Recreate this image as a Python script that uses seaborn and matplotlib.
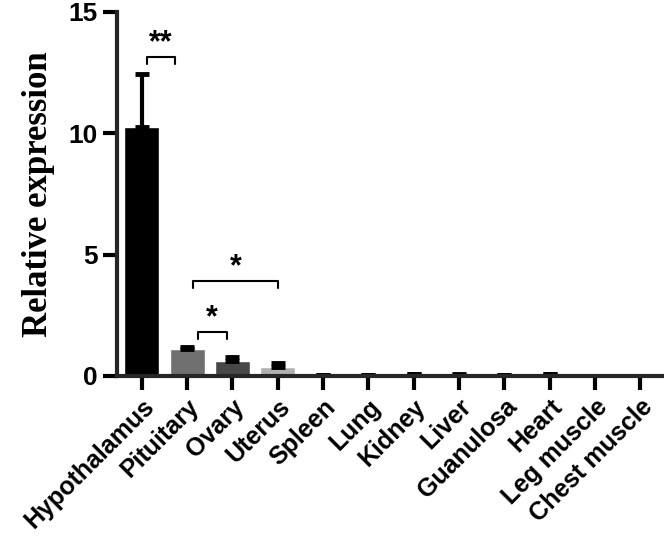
import pandas as pd
import matplotlib.pyplot as plt
import seaborn as sns

# Relative expression per tissue
tissues = ['Hypothalamus', 'Pituitary', 'Ovary', 'Uterus', 'Spleen', 'Lung',
           'Kidney', 'Liver', 'Guanulosa', 'Heart', 'Leg muscle', 'Chest muscle']
means = [10.25, 1.1, 0.6, 0.38, 0.03, 0.03, 0.06, 0.05, 0.04, 0.06, 0.0, 0.0]
errors = [2.2, 0.08, 0.18, 0.14, 0.01, 0.01, 0.02, 0.02, 0.01, 0.02, 0.0, 0.0]
colors = ['#000000', '#707070', '#474747', '#b0b0b0', '#202020', '#303030',
          '#101010', '#404040', '#606060', '#101010', '#000000', '#000000']

df = pd.DataFrame({'Tissue': tissues, 'Expression': means, 'SEM': errors})

sns.set_style('ticks')
plt.rcParams['font.family'] = ['Liberation Sans', 'DejaVu Sans']
plt.rcParams['font.weight'] = 'bold'
plt.rcParams['text.color'] = 'black'
plt.rcParams['xtick.color'] = 'black'
plt.rcParams['ytick.color'] = 'black'
plt.rcParams['axes.labelcolor'] = 'black'

fig = plt.figure(figsize=(6.64, 5.4), dpi=100)
ax = fig.add_axes([0.176, 0.304, 0.824, 0.674])

sns.barplot(data=df, x='Tissue', y='Expression', hue='Tissue', palette=colors,
            legend=False, width=0.77, errorbar=None, ax=ax, saturation=1)

# upper-only error bars
ax.errorbar(range(len(tissues)), means, yerr=[[0] * len(errors), errors],
            fmt='none', ecolor='black', elinewidth=3, capsize=5, capthick=3.5)

# significance brackets: (x1, x2, y, label)
brackets = [(0.11, 0.73, 13.15, '**'), (1.14, 3.0, 3.9, '*'), (1.23, 1.87, 1.8, '*')]
for x1, x2, y, lab in brackets:
    ax.plot([x1, x1, x2, x2], [y - 0.3, y, y, y - 0.3], color='black', lw=1.5)
    ax.text((x1 + x2) / 2, y - 0.05, lab, ha='center', va='bottom',
            fontsize=22, fontweight='bold')

ax.set_ylim(0, 15)
ax.set_xlim(-0.55, 11.52)
ax.set_yticks([0, 5, 10, 15])
ax.set_xlabel('')
ax.set_ylabel('Relative expression', family=['Liberation Serif'],
              fontsize=25, fontweight='bold', labelpad=10)

sns.despine(ax=ax)
for s in ['left', 'bottom']:
    ax.spines[s].set_linewidth(3)
ax.tick_params(axis='both', width=3, length=10, labelsize=18, colors='black')
ax.tick_params(axis='y', labelsize=19)
plt.setp(ax.get_xticklabels(), rotation=45, ha='right', rotation_mode='anchor',
         fontweight='bold')
plt.setp(ax.get_yticklabels(), fontweight='bold')

plt.savefig('out.png', dpi=100)
